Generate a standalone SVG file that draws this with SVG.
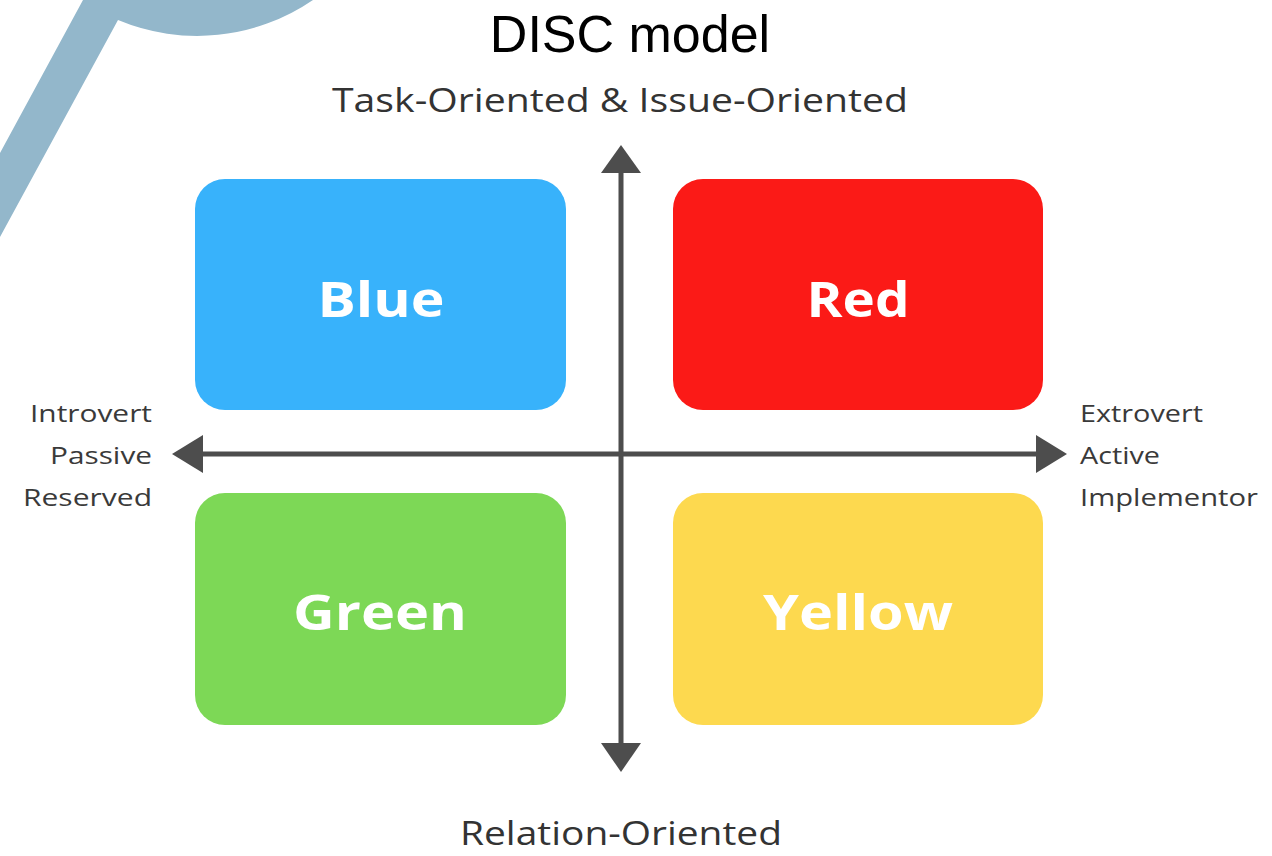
<svg xmlns="http://www.w3.org/2000/svg" width="1272" height="856" viewBox="0 0 1272 856">
<style>
.box-label{font-family:"Open Sans","Liberation Sans",sans-serif;font-weight:700;font-size:49px;fill:#ffffff;text-anchor:middle}
.axis-label{font-family:"Open Sans","Liberation Sans",sans-serif;font-size:32px;fill:#333333;text-anchor:middle}
.side-label{font-family:"Open Sans","Liberation Sans",sans-serif;font-size:24px;fill:#3a3a3a}
.axis{stroke:#4d4d4d;stroke-width:5;fill:none}
.head{fill:#4d4d4d}
</style>
<rect width="1272" height="856" fill="#ffffff"/>
<path id="bubble" d="M83,0 L0,153 L0,237 L118,20 A205,205 0 0 0 313,0 Z" fill="#93b7cb"/>
<text x="630" y="52" font-family="'Liberation Sans',Arial,sans-serif" font-size="52" fill="#000000" text-anchor="middle">DISC model</text>
<text class="axis-label" x="620" y="112" textLength="576" lengthAdjust="spacingAndGlyphs">Task-Oriented &amp; Issue-Oriented</text>
<text class="axis-label" x="621" y="845" textLength="322" lengthAdjust="spacingAndGlyphs">Relation-Oriented</text>
<g id="blue"><rect x="195" y="179" width="371" height="231" rx="30" fill="#38b2fb"/><text class="box-label" x="381" y="317" textLength="127" lengthAdjust="spacingAndGlyphs">Blue</text></g>
<g id="red"><rect x="673" y="179" width="370" height="231" rx="30" fill="#fb1a17"/><text class="box-label" x="858" y="317" textLength="103" lengthAdjust="spacingAndGlyphs">Red</text></g>
<g id="green"><rect x="195" y="493" width="371" height="232" rx="30" fill="#7dd856"/><text class="box-label" x="380" y="630" textLength="174" lengthAdjust="spacingAndGlyphs">Green</text></g>
<g id="yellow"><rect x="673" y="493" width="370" height="232" rx="30" fill="#fdd94f"/><text class="box-label" x="858" y="630" textLength="190" lengthAdjust="spacingAndGlyphs">Yellow</text></g>
<g id="left-label" class="side-label"><text x="152" y="422" text-anchor="end" textLength="122" lengthAdjust="spacingAndGlyphs">Introvert</text><text x="152" y="464" text-anchor="end" textLength="102" lengthAdjust="spacingAndGlyphs">Passive</text><text x="152" y="506" text-anchor="end" textLength="129" lengthAdjust="spacingAndGlyphs">Reserved</text></g>
<g id="right-label" class="side-label"><text x="1080" y="422" textLength="123" lengthAdjust="spacingAndGlyphs">Extrovert</text><text x="1080" y="464" textLength="80" lengthAdjust="spacingAndGlyphs">Active</text><text x="1080" y="506" textLength="178" lengthAdjust="spacingAndGlyphs">Implementor</text></g>
<g id="connectors">
<line class="axis" x1="621" y1="168" x2="621" y2="748"/>
<polygon class="head" points="621,145 641,173 601,173"/>
<polygon class="head" points="621,772 641,743 601,743"/>
<line class="axis" x1="198" y1="454" x2="1040" y2="454"/>
<polygon class="head" points="172,454 203,435 203,473"/>
<polygon class="head" points="1067,454 1036,435 1036,473"/>
</g>
</svg>
